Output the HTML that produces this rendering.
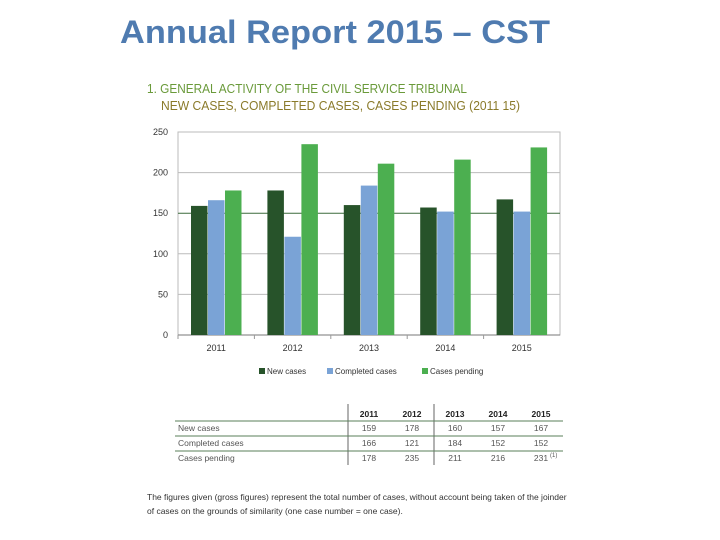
<!DOCTYPE html>
<html><head><meta charset="utf-8"><style>
html,body{margin:0;padding:0;background:#fff;}
svg{display:block;font-family:"Liberation Sans",sans-serif;}
</style></head><body>
<svg id="chart" width="720" height="540" viewBox="0 0 720 540">
<text x="120" y="43" font-size="32" font-weight="bold" fill="#4f7bb0" textLength="430" lengthAdjust="spacingAndGlyphs">Annual Report 2015 – CST</text>
<text x="147" y="93" font-size="12.5" fill="#6a9a3a" textLength="320" lengthAdjust="spacingAndGlyphs">1. GENERAL ACTIVITY OF THE CIVIL SERVICE TRIBUNAL</text>
<text x="161" y="110" font-size="12.5" fill="#8a7a2a" textLength="359" lengthAdjust="spacingAndGlyphs">NEW CASES, COMPLETED CASES, CASES PENDING (2011  15)</text>
<g id="grid"></g><g id="bars"></g><g id="axes"></g><g id="legend"></g><g id="table"></g>
<text x="147" y="500" font-size="8.5" fill="#333">The figures given (gross figures) represent the total number of cases, without account being taken of the joinder</text>
<text x="147" y="514" font-size="8.5" fill="#333">of cases on the grounds of similarity (one case number = one case).</text>
</svg>
<script>
const categories = ["2011","2012","2013","2014","2015"];
const newCases = [159,178,160,157,167];
const completedCases = [166,121,184,152,152];
const casesPending = [178,235,211,216,231];
const yTicks = [0,50,100,150,200,250];
const seriesNames = ["New cases","Completed cases","Cases pending"];
const colors = ["#27532a","#7aa3d6","#4caf50"];

const NS="http://www.w3.org/2000/svg";
const X0=178,X1=560,Y0=335,Y1=132,YMAX=250;
const yScale=v=>Y0-(v/YMAX)*(Y0-Y1);
const gw=(X1-X0)/categories.length;
const xGroup=i=>X0+i*gw;
function mk(tag,attrs,parent){const e=document.createElementNS(NS,tag);for(const k in attrs)e.setAttribute(k,attrs[k]);parent.appendChild(e);return e;}
const grid=document.getElementById('grid'),bars=document.getElementById('bars'),axes=document.getElementById('axes'),legend=document.getElementById('legend'),table=document.getElementById('table');

mk('rect',{x:X0,y:Y1,width:X1-X0,height:Y0-Y1,fill:'none',stroke:'#bbb','stroke-width':1},grid);
yTicks.forEach(t=>{
  const y=yScale(t);
  const l=mk('line',{x1:X0,x2:X1,y1:y,y2:y,stroke:t===150?'#3d6b3d':(t===0?'#777':'#bbb'),'stroke-width':1},grid);
  
  
  const tx=mk('text',{x:X0-10,y:y+3,'font-size':9,fill:'#333','text-anchor':'end'},axes);
  tx.textContent=t;
  
  
});
const series=[newCases,completedCases,casesPending];
const bw=17;
categories.forEach((c,i)=>{
  series.forEach((s,j)=>{
    const x=xGroup(i)+13+j*bw;
    const r=mk('rect',{x:x,y:yScale(s[i]),width:bw-0.5,height:Y0-yScale(s[i]),fill:colors[j]},bars);
    
    
  });
  const tx=mk('text',{x:xGroup(i)+gw/2,y:351,'font-size':9,fill:'#333','text-anchor':'middle'},axes);
  tx.textContent=c;
  
  
  const tk=mk('line',{x1:xGroup(i),x2:xGroup(i),y1:Y0,y2:Y0+4,stroke:'#999'},axes);
  
  
});
const lx=[259,327,422];
seriesNames.forEach((n,j)=>{
  const r=mk('rect',{x:lx[j],y:368,width:6,height:6,fill:colors[j]},legend);
  
  
  const t=mk('text',{x:lx[j]+8,y:374,'font-size':8,fill:'#333'},legend);
  t.textContent=n;
  
  
});
const colX=[369,412,455,498,541];
const rowY=[431,446,461];
mk('line',{x1:348,x2:348,y1:404,y2:465,stroke:'#666'},table);
mk('line',{x1:434,x2:434,y1:404,y2:465,stroke:'#666'},table);
[421,436,451].forEach(y=>mk('line',{x1:175,x2:563,y1:y,y2:y,stroke:'#5a7f5a','stroke-width':1},table));
categories.forEach((c,i)=>{
  const t=mk('text',{x:colX[i],y:417,'font-size':8.5,'font-weight':'bold',fill:'#222','text-anchor':'middle'},table);
  t.textContent=c;
  
  
});
seriesNames.forEach((n,j)=>{
  const t=mk('text',{x:178,y:rowY[j],'font-size':8.5,fill:'#555'},table);
  t.textContent=n;
  
  
  series[j].forEach((v,i)=>{
    const tv=mk('text',{x:colX[i],y:rowY[j],'font-size':8.5,fill:'#555','text-anchor':'middle'},table);
    tv.textContent=v;
    
    
  });
});
const sup=mk('text',{x:550,y:rowY[2]-4,'font-size':6,fill:'#555'},table);
sup.textContent='(1)';


</script>
</body></html>
